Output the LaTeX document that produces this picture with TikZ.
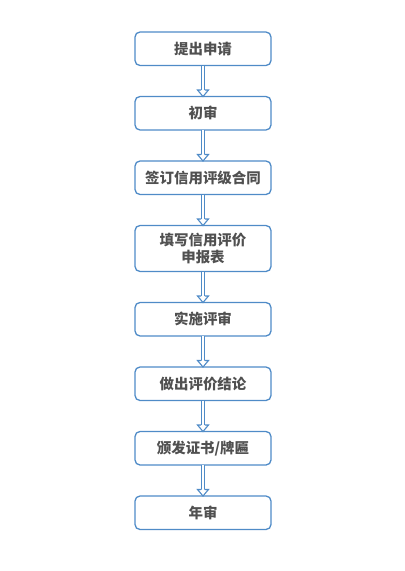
\documentclass[tikz,border=0pt]{standalone}
\usepackage{fontspec}
\setmainfont{Noto Sans CJK SC}
\usetikzlibrary{positioning,calc}
\definecolor{boxline}{RGB}{79,139,199}
\definecolor{steptext}{RGB}{80,80,80}

\newcommand{\flowarrow}[2]{%
    \draw[shaft] (#1.south) -- ($(#2.north)+(0,6.5bp)$);
    \fill[white] ($(#2.north)+(-5.5bp,6.5bp)$) -- (#2.north) -- ($(#2.north)+(5.5bp,6.5bp)$) -- cycle;
    \draw[head] ($(#2.north)+(-1.8bp,6.5bp)$) -- ++(-3.7bp,0) -- (#2.north)
        -- ($(#2.north)+(5.5bp,6.5bp)$) -- ++(-3.7bp,0);
}

\begin{document}
\begin{tikzpicture}
            \tikzstyle{stage} = [draw=boxline, line width=1.3bp, rounded corners=5bp,
                minimum width=136bp, minimum height=33.5bp, inner sep=0pt, outer sep=0pt,
                align=center, text=steptext, font=\bfseries\fontsize{14.5}{18}\selectfont]
            \tikzstyle{shaft} = [draw=boxline, line width=1.1bp, double=white, double distance=2.5bp]
            \tikzstyle{head} = [draw=boxline, line width=1.1bp, line join=miter]
            \useasboundingbox (0,0) rectangle (405bp,-571bp);

            \node[stage] (apply) at (203bp,-48.75bp) {提出申请};
            \node[stage, below=31bp of apply] (first) {初审};
            \node[stage, below=31bp of first] (contract) {签订信用评级合同};
            \node[stage, below=31bp of contract, minimum height=46bp] (form) {填写信用评价\\申报表};
            \node[stage, below=31bp of form] (review) {实施评审};
            \node[stage, below=31bp of review] (verdict) {做出评价结论};
            \node[stage, below=31bp of verdict] (award) {颁发证书/牌匾};
            \node[stage, below=31bp of award] (annual) {年审};

            \flowarrow{apply}{first}
            \flowarrow{first}{contract}
            \flowarrow{contract}{form}
            \flowarrow{form}{review}
            \flowarrow{review}{verdict}
            \flowarrow{verdict}{award}
            \flowarrow{award}{annual}
        \end{tikzpicture}
\end{document}
